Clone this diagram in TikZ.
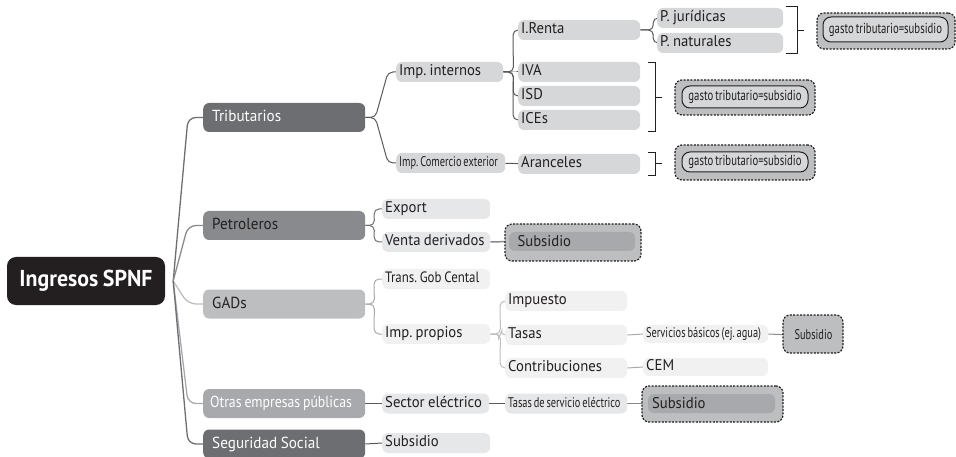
\documentclass[tikz,border=0pt]{standalone}
\usepackage{fontspec}
\setmainfont{PT Sans}[FakeStretch=0.95, WordSpace=0.85]
\newfontfamily\narrowfont{PT Sans}[FakeStretch=0.74, WordSpace=0.7]
\newfontfamily\condfont{PT Sans}[FakeStretch=0.86, WordSpace=0.8]
\usetikzlibrary{backgrounds}

\definecolor{ink}{HTML}{231F20}
\definecolor{g1}{HTML}{6D6E71}
\definecolor{g2}{HTML}{898A8D}
\definecolor{g3}{HTML}{A7A9AC}
\definecolor{g4}{HTML}{BCBEC0}
\definecolor{g5}{HTML}{D6D7D8}
\definecolor{g6}{HTML}{E6E7E8}
\definecolor{g7}{HTML}{F1F1F2}
\definecolor{lk}{HTML}{58595B}

\tikzset{
  main/.style={fill=ink, text=white, rounded corners=9pt, minimum width=158pt,
    minimum height=48pt, inner sep=0pt, font=\bfseries\fontsize{23}{26}\selectfont},
  cat/.style={anchor=west, rounded corners=6pt, text width=144pt, inner xsep=9pt,
    inner ysep=0pt, minimum height=29pt, align=flush left, text=ink,
    font=\frenchspacing\fontsize{16}{18}\selectfont, text height=11.5pt, text depth=3.5pt},
  leaf/.style={anchor=west, rounded corners=6pt, text width=#1, inner xsep=3pt,
    inner ysep=0pt, minimum height=20pt, align=flush left, text=ink,
    font=\frenchspacing\fontsize{15.5}{18}\selectfont, text height=11pt, text depth=3.5pt},
  narrow/.style={font=\frenchspacing\narrowfont\fontsize{14}{15}\selectfont},
  dbox/.style={draw=ink, dash pattern=on 2pt off 1.4pt, line width=1.2pt, fill=g4,
    rounded corners=7pt, inner sep=0pt},
  gbox/.style={draw=ink, line width=1pt, fill=g5, rounded corners=8pt, inner sep=0pt,
    text=ink, font=\narrowfont\fontsize{14.5}{15}\selectfont},
  sbox/.style={fill=g3, rounded corners=6pt, inner ysep=0pt, text=ink, align=flush left},
  link/.style={draw=lk, line width=1pt, rounded corners=5pt},
  rootlink/.style={line width=1.3pt, rounded corners=8pt},
}

\begin{document}
\begin{tikzpicture}[x=1pt,y=-1pt]
  \useasboundingbox (0,0) rectangle (956,457);

  % raiz
  \node[main] (root) at (86,281) {Ingresos SPNF};
  \coordinate (hub) at ([xshift=8pt]root.east);

  % primer nivel
  \node[cat, fill=g1, text=white] (trib) at (203,117.5) {Tributarios};
  \node[cat, fill=g2] (petro) at (203,225.5) {Petroleros};
  \node[cat, fill=g4] (gads) at (203,304) {GADs};
  \node[cat, fill=g3, text=white, inner xsep=7pt, text width=148pt,
    font=\condfont\fontsize{16}{18}\selectfont] (otras) at (203,403.5) {Otras empresas públicas};
  \node[cat, fill=g1, text=white] (segsoc) at (203,444) {Seguridad Social};

  % tributarios
  \node[leaf=101pt, fill=g5] (impint) at (396,72) {Imp. internos};
  \node[leaf=103pt, fill=g5, narrow] (impcom) at (396,163) {Imp. Comercio exterior};
  \node[leaf=116pt, fill=g5] (irenta) at (518,30) {I.Renta};
  \node[leaf=116pt, fill=g5] (iva) at (518,72) {IVA};
  \node[leaf=116pt, fill=g5] (isd) at (518,96) {ISD};
  \node[leaf=116pt, fill=g5] (ices) at (518,120) {ICEs};
  \node[leaf=116pt, fill=g5] (aranc) at (518,164) {Aranceles};
  \node[leaf=120pt, fill=g5] (pjur) at (657,18) {P. jurídicas};
  \node[leaf=120pt, fill=g5] (pnat) at (657,43) {P. naturales};

  \draw[thick, ink] (786,6) -- (797,6) -- (797,53) -- (786,53);
  \draw[thick, ink] (797,30) -- (804,30);
  \draw[thick, ink] (648,62) -- (655,62) -- (655,131) -- (648,131);
  \draw[thick, ink] (655,97) -- (662,97);
  \draw[thick, ink] (648,152) -- (655,152) -- (655,175) -- (648,175);
  \draw[thick, ink] (655,163) -- (662,163);

  \node[dbox, minimum width=138pt, minimum height=36pt] (gastoA) at (886,31) {};
  \node[gbox, minimum width=125pt, minimum height=25pt] (gastoAin) at (885.5,29.5) {gasto tributario=subsidio};
  \node[dbox, minimum width=140pt, minimum height=35pt] (gastoB) at (745,97.5) {};
  \node[gbox, minimum width=126pt, minimum height=22pt] (gastoBin) at (745,97) {gasto tributario=subsidio};
  \node[dbox, minimum width=140pt, minimum height=35pt] (gastoC) at (745,162.5) {};
  \node[gbox, minimum width=126pt, minimum height=20pt] (gastoCin) at (745,162) {gasto tributario=subsidio};

  % petroleros
  \node[leaf=102pt, fill=g6] (export) at (382,209) {Export};
  \node[leaf=102pt, fill=g6] (venta) at (382,242) {Venta derivados};
  \node[dbox, minimum width=136pt, minimum height=37pt] (subA) at (573,242.5) {};
  \node[sbox, text width=109pt, inner xsep=8.5pt, minimum height=19pt,
    font=\fontsize{15.5}{18}\selectfont] (subAin) at (572,241.5) {Subsidio};

  % GADs
  \node[leaf=102pt, fill=g7, font=\frenchspacing\condfont\fontsize{15}{17}\selectfont] (trans) at (382,279) {Trans. Gob Cental};
  \node[leaf=102pt, fill=g7] (improp) at (382,334) {Imp. propios};
  \node[leaf=116pt, fill=g7] (impuesto) at (505,301) {Impuesto};
  \node[leaf=116pt, fill=g7] (tasas) at (505,335) {Tasas};
  \node[leaf=116pt, fill=g7] (contrib) at (505,368) {Contribuciones};
  \node[leaf=119pt, fill=g7, narrow, minimum height=18pt] (servic) at (643,334) {Servicios básicos (ej. agua)};
  \node[leaf=119pt, fill=g7, minimum height=18pt] (cem) at (643,367) {CEM};
  \node[dbox, minimum width=60pt, minimum height=38pt] (subB) at (813,334) {};
  \node[sbox, fill=g4, inner xsep=3pt, minimum height=17pt, narrow] (subBin) at (813.5,335) {Subsidio};

  % otras y seguridad social
  \node[leaf=101pt, fill=g6] (sector) at (382,403.5) {Sector eléctrico};
  \node[leaf=116pt, fill=g6, narrow] (tasaserv) at (505,403.5) {Tasas de servicio eléctrico};
  \node[dbox, minimum width=141pt, minimum height=36pt] (subC) at (712.5,404) {};
  \node[sbox, text width=119pt, inner xsep=4pt, minimum height=19pt,
    font=\fontsize{15.5}{18}\selectfont] (subCin) at (711.5,403.5) {Subsidio};
  \node[leaf=102pt, fill=g6] (subss) at (382,443) {Subsidio};

  \begin{scope}[on background layer]
    % ramas de la raiz
    \draw[rootlink, g1] (hub) -- ([xshift=-15pt]trib.west) -- (trib.west);
    \draw[rootlink, g2] (hub) -- ([xshift=-15pt]petro.west) -- (petro.west);
    \draw[rootlink, g4] (hub) -- ([xshift=-15pt]gads.west) -- (gads.west);
    \draw[rootlink, g3] (hub) -- ([xshift=-15pt]otras.west) -- (otras.west);
    \draw[rootlink, g1] (hub) -- ([xshift=-15pt]segsoc.west) -- (segsoc.west);

    % ramas internas
    \foreach \c in {impint,impcom}
      \draw[link] (trib.east) -- ++(10,0) -- ([xshift=-8pt]\c.west) -- (\c.west);
    \foreach \c in {irenta,iva,isd,ices}
      \draw[link] (impint.east) -- ++(10,0) -- ([xshift=-5pt]\c.west) -- (\c.west);
    \foreach \c in {pjur,pnat}
      \draw[link] (irenta.east) -- ++(13,0) -- ([xshift=-4pt]\c.west) -- (\c.west);
    \draw[link] (impcom) -- (aranc);
    \foreach \c in {export,venta}
      \draw[link, draw=g1] (petro.east) -- ++(9,0) -- ([xshift=-8pt]\c.west) -- (\c.west);
    \draw[link, draw=g2, line width=1.5pt] (venta.east) -- (subAin.west);
    \foreach \c in {trans,improp}
      \draw[link, draw=g3] (gads.east) -- ++(9,0) -- ([xshift=-8pt]\c.west) -- (\c.west);
    \foreach \c in {impuesto,tasas,contrib}
      \draw[link, draw=g4] (improp.east) -- ++(10,0) -- ([xshift=-5pt]\c.west) -- (\c.west);
    \draw[link, draw=g3] (tasas.east) -- (servic.west);
    \draw[link, draw=g3] (contrib.east) -- (cem.west);
    \draw[link, draw=g2] (servic.east) -- (subBin.west);
    \draw[link, draw=lk] (otras.east) -- (sector.west);
    \draw[link, draw=lk] (sector.east) -- (tasaserv.west);
    \draw[link, draw=g2] (tasaserv.east) -- (subCin.west);
    \draw[link, draw=lk] (segsoc.east) -- (subss.west);
  \end{scope}
\end{tikzpicture}
\end{document}
